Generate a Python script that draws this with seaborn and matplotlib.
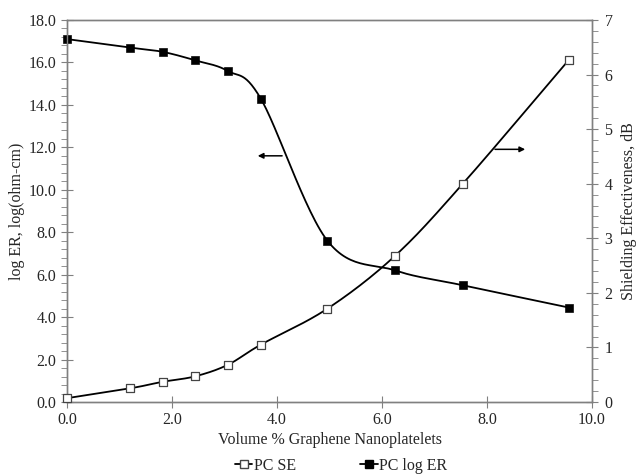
import numpy as np
import pandas as pd
import matplotlib
matplotlib.use("Agg")
import matplotlib.pyplot as plt
from matplotlib.ticker import MultipleLocator, FormatStrFormatter
from matplotlib.lines import Line2D
import seaborn as sns

vol_pct = [0.0, 1.2, 1.82, 2.44, 3.06, 3.69, 4.96, 6.25, 7.54, 9.56]
log_er = [17.1, 16.7, 16.5, 16.1, 15.6, 14.3, 7.6, 6.2, 5.5, 4.45]
pc_se = [0.07, 0.25, 0.37, 0.47, 0.68, 1.05, 1.71, 2.68, 4.0, 6.27]

sns.set_style("white")
plt.rcParams['font.family'] = ['Liberation Serif', 'DejaVu Serif']


def smooth(x, y, n=30):
    # Catmull-Rom style smoothing (like Excel's smoothed line)
    x = np.asarray(x, float); y = np.asarray(y, float)
    px = np.concatenate([[2 * x[0] - x[1]], x, [2 * x[-1] - x[-2]]])
    py = np.concatenate([[2 * y[0] - y[1]], y, [2 * y[-1] - y[-2]]])
    xs, ys = [], []
    t = np.linspace(0, 1, n)
    for i in range(1, len(px) - 2):
        p0, p1, p2, p3 = (np.array([px[j], py[j]]) for j in range(i - 1, i + 3))
        for tt in t:
            pt = 0.5 * ((2 * p1) + (-p0 + p2) * tt + (2 * p0 - 5 * p1 + 4 * p2 - p3) * tt ** 2
                        + (-p0 + 3 * p1 - 3 * p2 + p3) * tt ** 3)
            xs.append(pt[0]); ys.append(pt[1])
    return np.array(xs), np.array(ys)


fig = plt.figure(figsize=(6.39, 4.74), dpi=100)
ax = fig.add_axes([67 / 639, 1 - 402 / 474, (592 - 67) / 639, (402 - 20) / 474])
ax2 = ax.twinx()

ex, ey = smooth(vol_pct, log_er)
sx, sy = smooth(vol_pct, pc_se)
df_er = pd.DataFrame({"x": vol_pct, "y": log_er})
df_se = pd.DataFrame({"x": vol_pct, "y": pc_se})

ax.plot(ex, ey, color="black", lw=1.3, zorder=3)
sns.scatterplot(data=df_er, x="x", y="y", ax=ax, marker="s", s=32, color="black",
                edgecolor="black", zorder=4, legend=False, clip_on=False)
ax2.plot(sx, sy, color="black", lw=1.3, zorder=3)
sns.scatterplot(data=df_se, x="x", y="y", ax=ax2, marker="s", s=28, facecolor="white",
                edgecolor="#444444", linewidth=0.9, zorder=4, legend=False, clip_on=False)

ax.set_xlim(0, 10)
ax.set_ylim(0, 18)
ax2.set_ylim(0, 7)

grey = "#808080"
for a in (ax, ax2):
    for s in a.spines.values():
        s.set_color(grey)
        s.set_linewidth(1.0)
ax.xaxis.set_major_locator(MultipleLocator(2))
ax.xaxis.set_minor_locator(MultipleLocator(0.4))
ax.yaxis.set_major_locator(MultipleLocator(2))
ax.yaxis.set_minor_locator(MultipleLocator(0.4))
ax2.yaxis.set_major_locator(MultipleLocator(1))
ax2.yaxis.set_minor_locator(MultipleLocator(0.2))
ax.xaxis.set_major_formatter(FormatStrFormatter("%.1f"))
ax.yaxis.set_major_formatter(FormatStrFormatter("%.1f"))
ax2.yaxis.set_major_formatter(FormatStrFormatter("%d"))

ax.tick_params(axis="x", which="major", direction="inout", length=8, color=grey,
               labelsize=11.5, pad=3, top=False, bottom=True)
ax.tick_params(axis="x", which="minor", direction="out", length=4, color=grey, top=False)
ax.tick_params(axis="y", which="major", direction="inout", length=8, color=grey,
               labelsize=11.5, left=True, right=False)
ax.tick_params(axis="y", which="minor", direction="out", length=4, color=grey, left=True, right=False)
ax2.tick_params(axis="y", which="major", direction="inout", length=8, color=grey,
                labelsize=11.5, right=True, pad=5)
ax2.tick_params(axis="y", which="minor", direction="out", length=4, color=grey, right=True)

ax.set_xlabel("Volume % Graphene Nanoplatelets", fontsize=11.5, labelpad=3)
ax.set_ylabel("log ER, log(ohm-cm)", fontsize=11.5, labelpad=3)
ax2.set_ylabel("Shielding Effectiveness, dB", fontsize=11.5, labelpad=6)

ax.annotate("", xy=(3.58, 11.6), xytext=(4.15, 11.6),
            arrowprops=dict(arrowstyle="-|>", color="black", lw=1.1, mutation_scale=8))
ax2.annotate("", xy=(8.78, 4.63), xytext=(8.1, 4.63),
             arrowprops=dict(arrowstyle="-|>", color="black", lw=1.1, mutation_scale=8))

handles = [
    Line2D([], [], color="black", lw=1.3, marker="s", markersize=5.5,
           markerfacecolor="white", markeredgecolor="#444444", label="PC SE"),
    Line2D([], [], color="black", lw=1.3, marker="s", markersize=6,
           markerfacecolor="black", label="PC log ER"),
]
fig.legend(handles=handles, loc="center", bbox_to_anchor=(341 / 639, 1 - 466 / 474), ncol=2,
           frameon=False, fontsize=11.5, handlelength=1.1, handletextpad=0.1,
           columnspacing=4.0, borderpad=0.1)

fig.savefig("out.png", dpi=100)
